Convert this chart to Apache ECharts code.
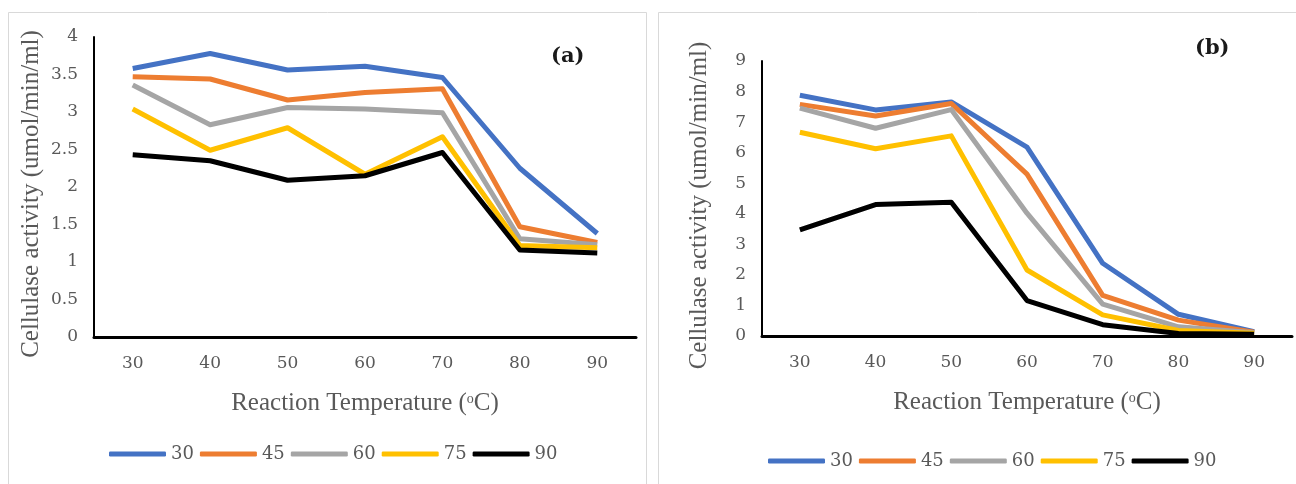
<!DOCTYPE html>
<html>
<head>
<meta charset="utf-8">
<script src="https://cdn.jsdelivr.net/npm/echarts@6/dist/echarts.min.js"></script>
<style>
  html, body { margin: 0; padding: 0; background: #fff; }
  #app { width: 1296px; height: 484px; }
</style>
</head>
<body>
<div id="app"></div>
<script>
// reaction temperatures (x) and series names (legend)
const temps = ["30", "40", "50", "60", "70", "80", "90"];
const seriesNames = ["30", "45", "60", "75", "90"];
const colors = ["#4472C4", "#ED7D31", "#A5A5A5", "#FFC000", "#000000"];

// panel (a)
const a30 = [3.58, 3.78, 3.56, 3.61, 3.46, 2.25, 1.38];
const a45 = [3.47, 3.44, 3.16, 3.26, 3.31, 1.47, 1.26];
const a60 = [3.36, 2.83, 3.06, 3.04, 2.99, 1.31, 1.23];
const a75 = [3.04, 2.49, 2.79, 2.17, 2.67, 1.22, 1.19];
const a90 = [2.43, 2.35, 2.09, 2.15, 2.46, 1.16, 1.12];

// panel (b)
const b30 = [7.88, 7.40, 7.66, 6.18, 2.38, 0.71, 0.14];
const b45 = [7.58, 7.20, 7.61, 5.30, 1.33, 0.52, 0.12];
const b60 = [7.46, 6.80, 7.41, 4.02, 1.04, 0.30, 0.11];
const b75 = [6.67, 6.13, 6.55, 2.16, 0.69, 0.18, 0.09];
const b90 = [3.47, 4.30, 4.38, 1.16, 0.37, 0.08, 0.06];

const tickFont = "DejaVu Serif";
const titleFont = "Liberation Serif";
const grey = "#595959";

const chart = echarts.init(document.getElementById("app"), null, { renderer: "canvas" });

const makeX = (gridIndex) => ({
  type: "category",
  gridIndex,
  data: temps,
  boundaryGap: true,
  axisTick: { show: false },
  axisLine: { lineStyle: { color: "#000", width: 3 } },
  axisLabel: { color: grey, fontSize: 17, fontFamily: tickFont, margin: 18 },
  splitLine: { show: false },
  name: "Reaction Temperature ({s|o}C)",
  nameLocation: "middle",
  nameGap: 54,
  nameTextStyle: {
    color: grey, fontSize: 25, fontFamily: titleFont,
    rich: { s: { color: grey, fontSize: 14, fontFamily: titleFont, padding: [0, 0, 9, 0] } },
  },
});

const makeY = (gridIndex, max, interval) => ({
  type: "value",
  gridIndex,
  min: 0,
  max,
  interval,
  axisTick: { show: false },
  axisLine: { show: true, lineStyle: { color: "#000", width: 2 } },
  axisLabel: { color: grey, fontSize: 17, fontFamily: tickFont, margin: 16 },
  splitLine: { show: false },
  name: "Cellulase activity (umol/min/ml)",
  nameLocation: "middle",
  nameGap: 50,
  nameTextStyle: { color: grey, fontSize: 25, fontFamily: titleFont, padding: [0, 14, 0, 0] },
});

const makeSeries = (data, i, idx) => ({
  type: "line",
  name: seriesNames[i],
  xAxisIndex: idx,
  yAxisIndex: idx,
  data,
  symbol: "none",
  color: colors[i],
  lineStyle: { width: 5, color: colors[i], join: "round" },
  animation: false,
});

const makeLegend = (left, top) => ({
  data: seriesNames,
  left,
  top,
  orient: "horizontal",
  icon: "roundRect",
  itemWidth: 57,
  itemHeight: 5,
  itemGap: 6,
  textStyle: { color: grey, fontSize: 18, fontFamily: tickFont },
});

chart.setOption({
  backgroundColor: "#fff",
  animation: false,
  graphic: [
    { type: "rect", shape: { x: 8.5, y: 12.5, width: 638, height: 500 }, style: { fill: "none", stroke: "#d9d9d9", lineWidth: 1 }, silent: true },
    { type: "rect", shape: { x: 658.5, y: 12.5, width: 700, height: 500 }, style: { fill: "none", stroke: "#d9d9d9", lineWidth: 1 }, silent: true },
  ],
  title: [
    { text: "(a)", left: 546, top: 41, textStyle: { fontFamily: "DejaVu Serif", fontWeight: "bold", fontSize: 21, color: "#1a1a1a" } },
    { text: "(b)", left: 1190, top: 33, textStyle: { fontFamily: "DejaVu Serif", fontWeight: "bold", fontSize: 21, color: "#1a1a1a" } },
  ],
  grid: [
    { left: 94, top: 37, width: 542, height: 300 },
    { left: 762, top: 61, width: 530, height: 275 },
  ],
  xAxis: [makeX(0), makeX(1)],
  yAxis: [makeY(0, 4, 0.5), makeY(1, 9, 1)],
  legend: [makeLegend(104, 440), makeLegend(763, 447)],
  series: [
    ...[a30, a45, a60, a75, a90].map((d, i) => makeSeries(d, i, 0)),
    ...[b30, b45, b60, b75, b90].map((d, i) => makeSeries(d, i, 1)),
  ],
});
</script>
</body>
</html>
